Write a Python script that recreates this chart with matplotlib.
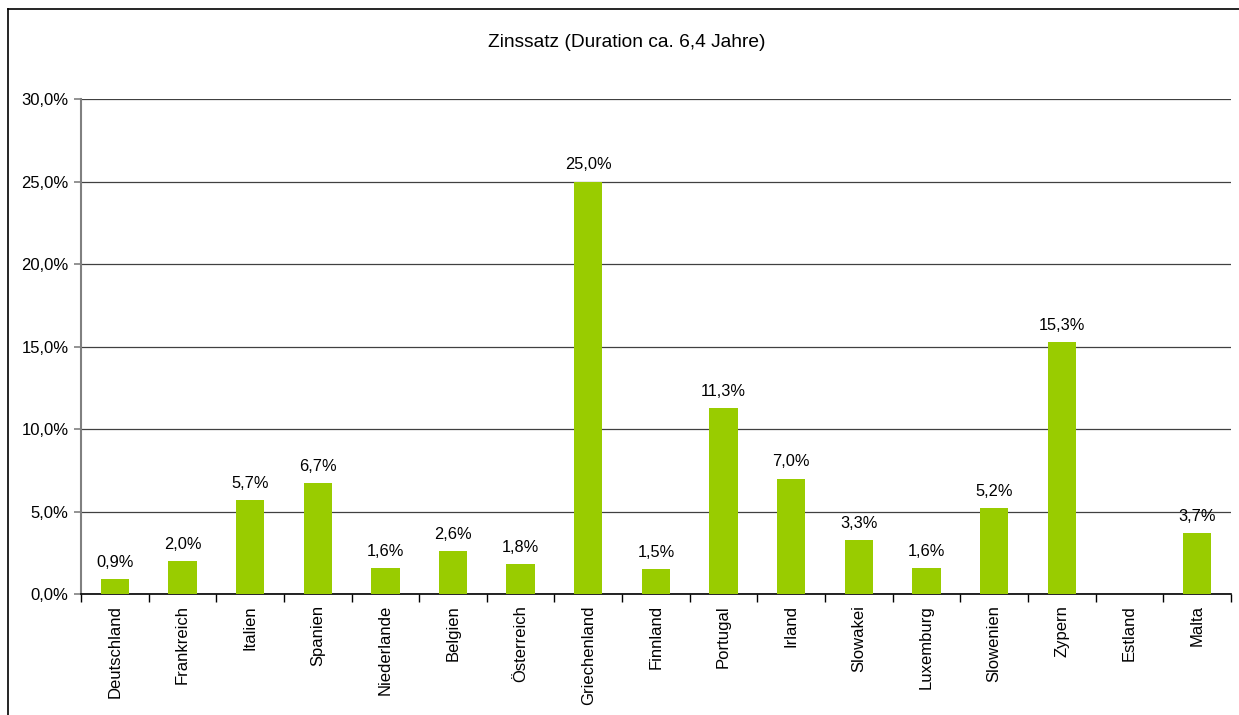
import matplotlib
matplotlib.use("Agg")
import matplotlib.pyplot as plt
from matplotlib.lines import Line2D
import numpy as np

plt.rcParams["font.family"] = ["Liberation Sans", "DejaVu Sans"]

countries = ["Deutschland", "Frankreich", "Italien", "Spanien", "Niederlande",
             "Belgien", "Österreich", "Griechenland", "Finnland", "Portugal",
             "Irland", "Slowakei", "Luxemburg", "Slowenien", "Zypern",
             "Estland", "Malta"]
# interest rate in percent; Estland has no value
rates = [0.9, 2.0, 5.7, 6.7, 1.6, 2.6, 1.8, 25.0, 1.5, 11.3,
         7.0, 3.3, 1.6, 5.2, 15.3, None, 3.7]
y_ticks = [0, 5, 10, 15, 20, 25, 30]

GREEN = "#99cc00"

fig = plt.figure(figsize=(12.39, 7.15), dpi=100)
ax = fig.add_axes([0.0654, 0.1692, 0.928, 0.6923])

x = np.arange(len(countries))
vals = [v if v is not None else 0 for v in rates]
bars = ax.bar(x, vals, width=0.42, color=GREEN, zorder=3)

for xi, v in zip(x, rates):
    if v is None:
        continue
    ax.annotate(f"{v:.1f}%".replace(".", ","), (xi, v), xytext=(0, 6.5),
                textcoords="offset points", ha="center", va="bottom",
                fontsize=11.8, color="black")

ax.set_xlim(-0.5, len(countries) - 0.5)
ax.set_ylim(0, 30)
ax.set_yticks(y_ticks)
ax.set_yticklabels([f"{t:.1f}%".replace(".", ",") for t in y_ticks], fontsize=12)
ax.yaxis.grid(True, color="#404040", linewidth=0.9, zorder=0)
ax.tick_params(axis="y", length=5, width=1.2, color="#808080", pad=4)

# category labels centred, tick marks between categories
ax.set_xticks(x)
ax.set_xticklabels(countries, rotation=90, fontsize=12)
ax.tick_params(axis="x", which="major", length=0, pad=8)
ax.set_xticks(np.arange(-0.5, len(countries), 1), minor=True)
ax.tick_params(axis="x", which="minor", length=6, width=1, color="black")

for side in ("top", "right"):
    ax.spines[side].set_visible(False)
ax.spines["left"].set_color("#808080")
ax.spines["left"].set_linewidth(1.5)
ax.spines["bottom"].set_color("black")
ax.spines["bottom"].set_linewidth(1.2)

fig.text(0.506, 0.941, "Zinssatz (Duration ca. 6,4 Jahre)", ha="center",
         va="center", fontsize=13.8)

# chart frame: top and left edges
fig.add_artist(Line2D([0.0065, 1.0], [0.987, 0.987], transform=fig.transFigure,
                      color="black", linewidth=1.2))
fig.add_artist(Line2D([0.0065, 0.0065], [0.0, 0.987], transform=fig.transFigure,
                      color="black", linewidth=1.2))

fig.savefig("out.png", dpi=100)
